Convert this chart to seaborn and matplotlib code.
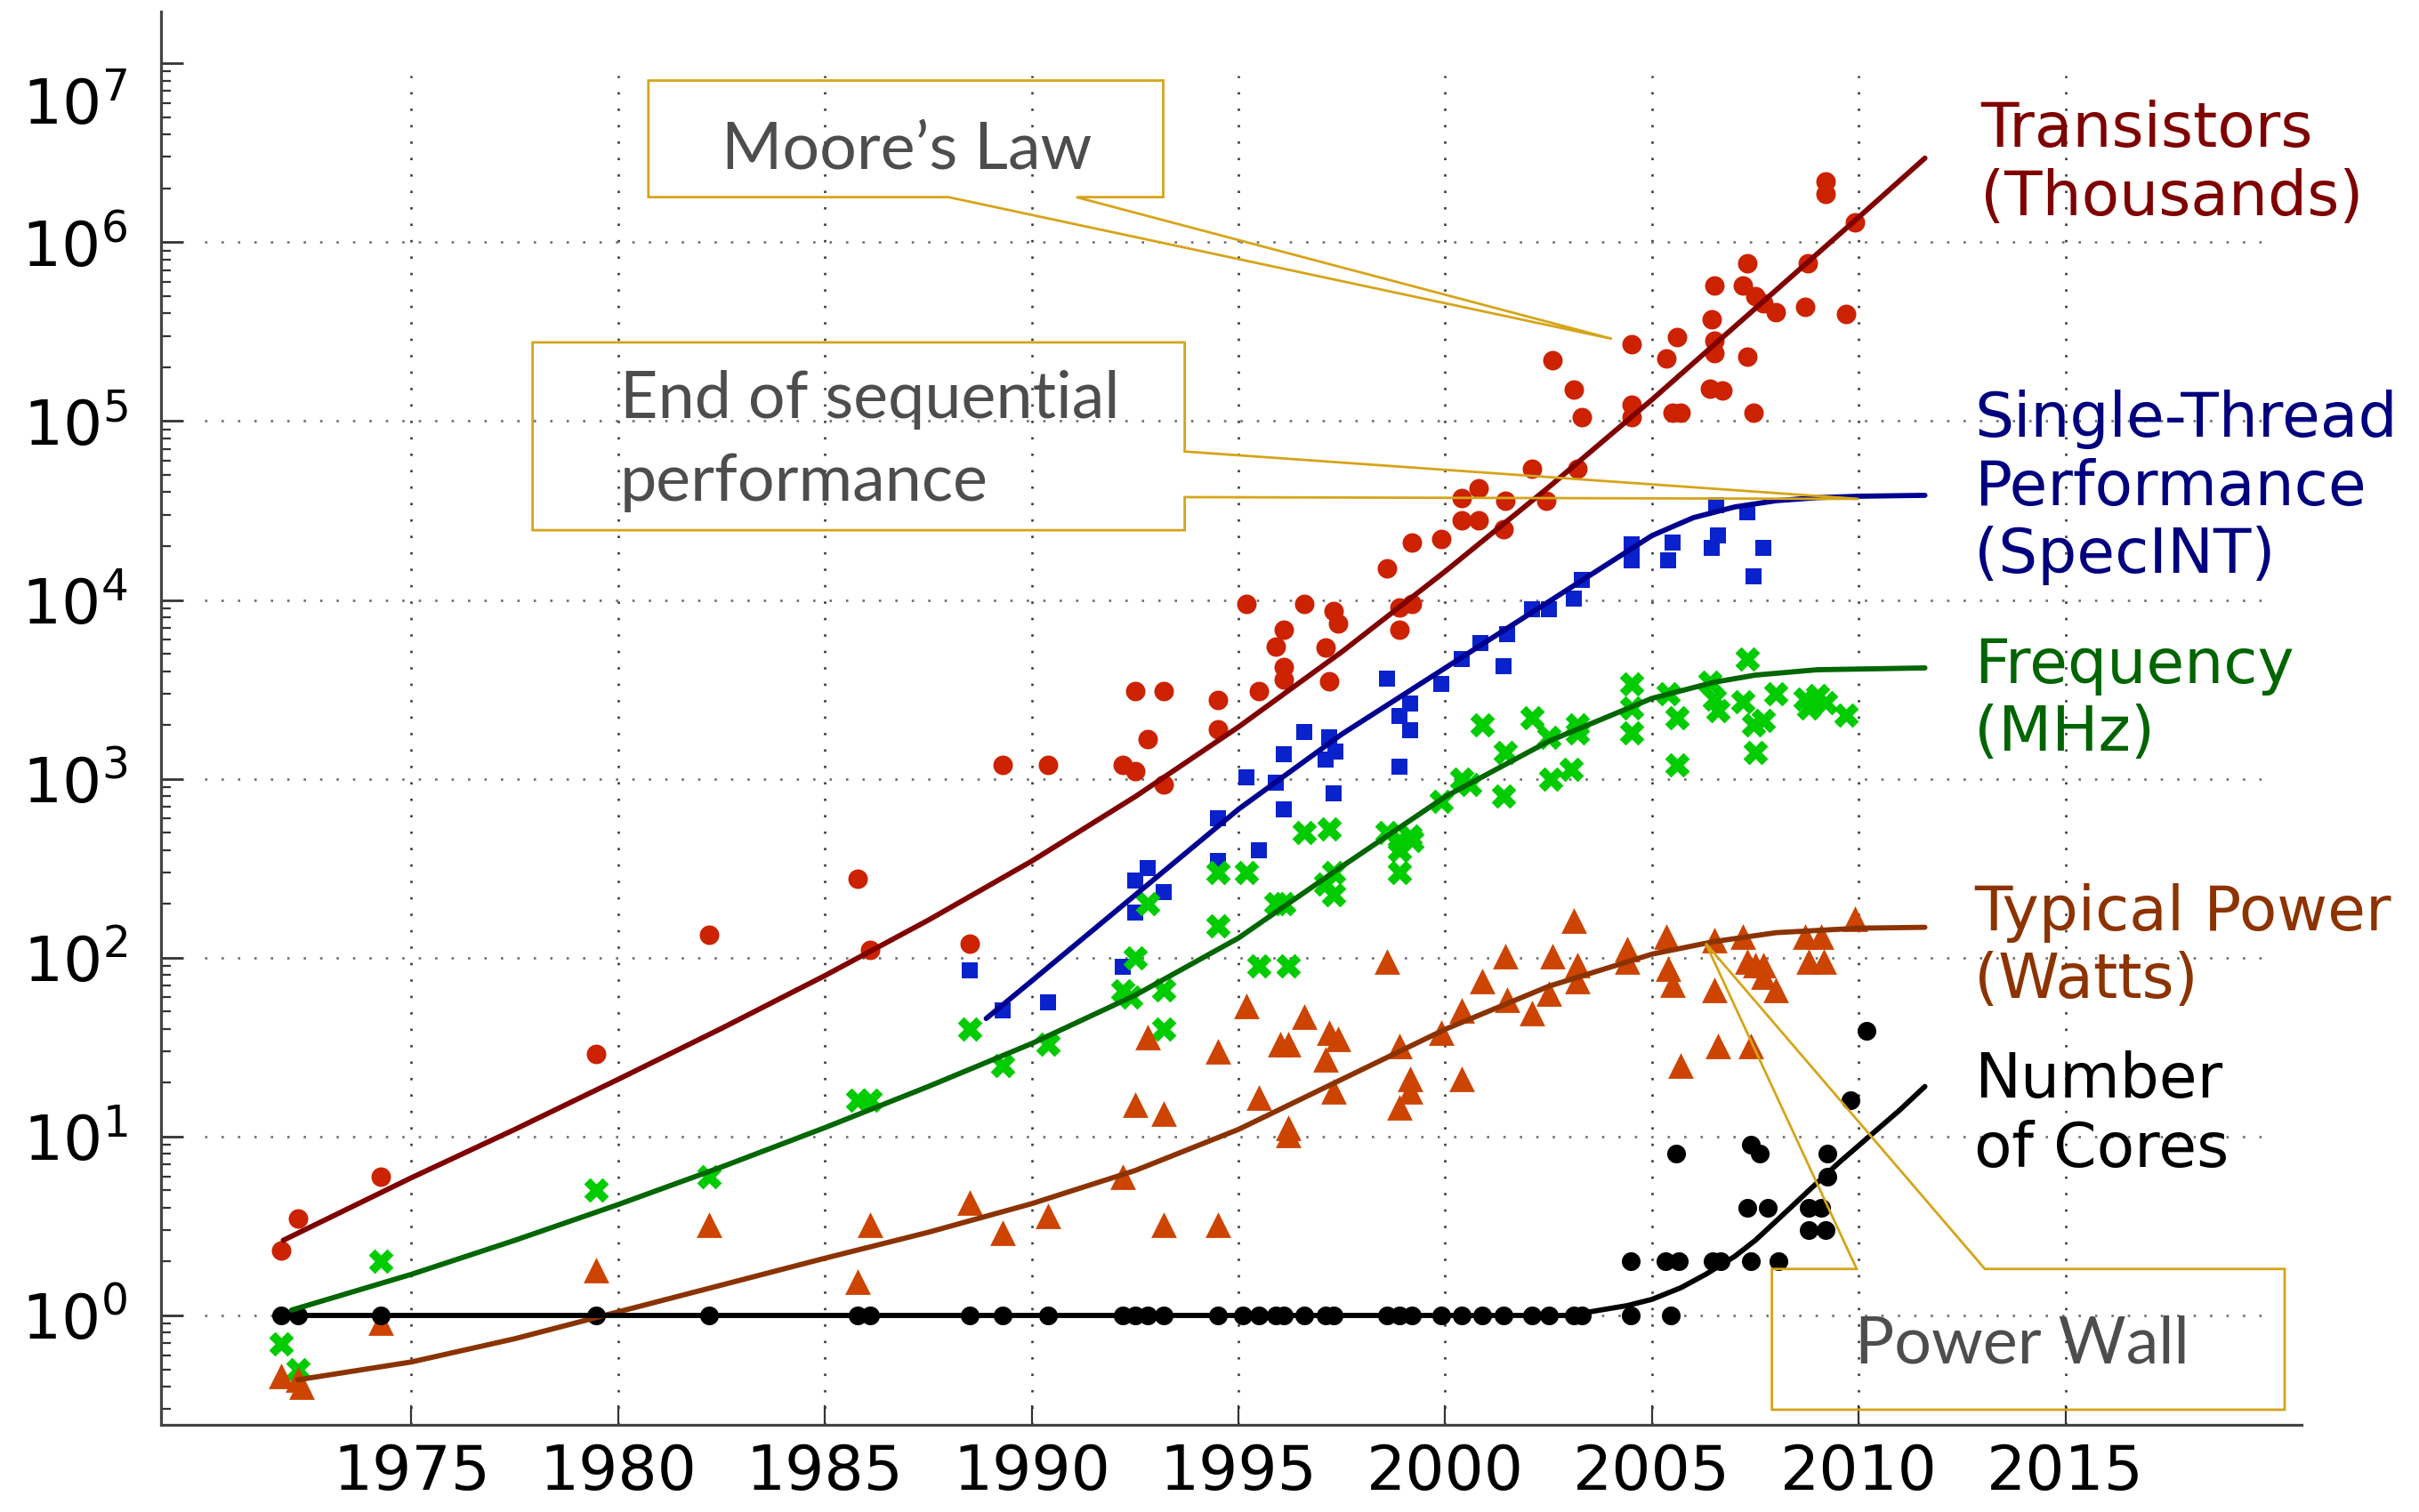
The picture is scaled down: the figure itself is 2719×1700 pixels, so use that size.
import matplotlib
matplotlib.use("Agg")
import numpy as np
import pandas as pd
import matplotlib.pyplot as plt
import seaborn as sns
from matplotlib.patches import Polygon
from matplotlib.ticker import FixedLocator, FixedFormatter, LogLocator, NullFormatter

# ---------------- data ----------------
# Transistors (thousands)
transistor_year = [1971.84, 1972.25, 1974.26, 1979.46, 1982.19, 1985.78, 1986.09, 1988.5, 1989.3, 1990.4,
                   1992.2, 1992.5, 1992.8, 1992.5, 1993.2, 1993.2, 1994.5, 1994.5, 1995.2, 1995.5,
                   1995.9, 1996.1, 1996.1, 1996.1, 1996.6, 1997.3, 1997.4, 1997.1, 1997.2, 1998.6,
                   1998.9, 1998.9, 1999.2, 1999.2, 1999.9, 2000.4, 2000.4, 2000.8, 2000.8, 2001.4,
                   2001.45, 2002.1, 2002.45, 2002.6, 2003.1, 2003.3, 2003.2, 2004.5, 2004.5, 2004.5,
                   2005.35, 2005.6, 2005.5, 2005.7, 2006.5, 2006.45, 2006.5, 2006.5, 2006.4, 2006.7,
                   2007.3, 2007.2, 2007.5, 2007.7, 2008.0, 2007.3, 2007.45, 2008.76, 2008.7, 2009.2,
                   2009.2, 2009.7, 2009.9]
transistor_k = [2.3, 3.5, 6.0, 29, 134, 275, 110, 120, 1200, 1200,
                1200, 1100, 1660, 3100, 3100, 930, 2750, 1900, 9500, 3100,
                5500, 6800, 4200, 3600, 9500, 8700, 7400, 5400, 3500, 15000,
                9100, 6800, 21000, 9500, 22000, 37000, 28000, 42000, 28000, 25000,
                36000, 54000, 36000, 220000, 150000, 105000, 54000, 270000, 123000, 105000,
                224000, 295000, 112000, 112000, 575000, 372000, 282000, 240000, 151000, 148000,
                760000, 575000, 500000, 457000, 407000, 229000, 112000, 760000, 436000, 2190000,
                1860000, 398000, 1290000]

# Single-thread performance (SpecINT)
specint_year = [1988.5, 1989.3, 1990.4, 1992.2, 1992.5, 1992.8, 1993.2, 1992.5, 1994.5, 1994.5,
                1995.2, 1995.5, 1995.9, 1996.1, 1996.1, 1996.6, 1997.2, 1997.3, 1997.35, 1997.1,
                1998.6, 1998.9, 1998.9, 1999.15, 1999.15, 1999.9, 2000.4, 2000.85, 2001.4, 2001.5,
                2002.1, 2002.5, 2003.1, 2003.3, 2004.5, 2004.5, 2005.5, 2005.4, 2006.45, 2006.56,
                2006.6, 2007.3, 2007.45, 2007.7]
specint_val = [85, 51, 56, 89, 270, 316, 234, 178, 603, 347,
               1023, 398, 955, 1380, 676, 1820, 1700, 832, 1413, 1288,
               3630, 2240, 1175, 2630, 1860, 3390, 4680, 5750, 4270, 6460,
               8910, 8910, 10230, 12880, 20420, 16600, 20900, 16600, 19500, 33900,
               22900, 30900, 13500, 19500]

# Frequency (MHz)
freq_year = [1971.84, 1972.25, 1974.26, 1979.46, 1982.19, 1985.78, 1986.09, 1988.5, 1989.3, 1990.4,
             1992.2, 1992.4, 1992.5, 1992.8, 1993.2, 1993.2, 1994.5, 1994.5, 1995.2, 1995.5,
             1996.2, 1995.9, 1996.1, 1996.6, 1997.2, 1997.1, 1997.3, 1997.3, 1998.6, 1998.9,
             1998.9, 1998.9, 1999.15, 1999.2, 1999.9, 2000.4, 2000.6, 2000.9, 2001.45, 2001.4,
             2002.1, 2002.5, 2002.55, 2003.05, 2003.2, 2003.2, 2004.5, 2004.5, 2004.5, 2005.4,
             2005.6, 2005.6, 2006.4, 2006.5, 2006.6, 2007.3, 2007.2, 2007.45, 2007.7, 2007.5,
             2008.0, 2008.7, 2008.8, 2009.0, 2009.2, 2009.7]
freq_mhz = [0.69, 0.5, 2.0, 5.0, 6.0, 16, 16, 40, 25, 33,
            65, 60, 100, 200, 66, 40, 300, 150, 300, 90,
            90, 200, 200, 500, 525, 257, 225, 300, 500, 450,
            300, 400, 480, 450, 750, 1000, 933, 2000, 1400, 800,
            2200, 1700, 1000, 1130, 2000, 1800, 3400, 2500, 1800, 3000,
            2200, 1200, 3460, 2800, 2400, 4700, 2700, 2000, 2130, 1400,
            3000, 2800, 2500, 2930, 2660, 2260]

# Typical power (Watts)
power_year = [1971.84, 1972.25, 1972.35, 1974.26, 1979.46, 1982.19, 1985.78, 1986.09, 1988.5, 1989.3,
              1990.4, 1992.2, 1992.5, 1992.8, 1993.2, 1993.2, 1994.5, 1994.5, 1995.2, 1995.5,
              1996.0, 1996.2, 1996.2, 1996.2, 1996.6, 1997.2, 1997.4, 1997.1, 1997.3, 1998.6,
              1998.9, 1999.15, 1999.15, 1998.9, 1999.9, 2000.4, 2000.4, 2000.9, 2001.45, 2001.5,
              2002.1, 2002.5, 2002.6, 2003.1, 2003.2, 2003.2, 2004.4, 2004.4, 2005.35, 2005.4,
              2005.5, 2005.7, 2006.5, 2006.5, 2006.6, 2007.2, 2007.3, 2007.5, 2007.7, 2007.7,
              2008.0, 2007.4, 2008.7, 2008.8, 2009.1, 2009.15, 2009.9]
power_w = [0.46, 0.44, 0.40, 0.91, 1.8, 3.2, 1.55, 3.2, 4.3, 2.9,
           3.6, 6.0, 15, 36, 13.5, 3.2, 30, 3.2, 54, 16.6,
           33, 33, 11.2, 10.2, 47, 38, 35, 27, 18, 95,
           32, 21, 18, 14.5, 38, 21, 51, 74, 102, 58,
           49, 63, 102, 162, 91, 74, 112, 95, 132, 87,
           71, 25, 126, 66, 32, 132, 95, 91, 91, 78,
           66, 32, 132, 95, 132, 95, 166]

# Number of cores
cores_year = [1971.84, 1972.25, 1974.26, 1979.46, 1982.19, 1985.78, 1986.09, 1988.5, 1989.3, 1990.4,
              1992.2, 1992.5, 1992.8, 1993.2, 1994.5, 1995.1, 1995.5, 1995.9, 1996.1, 1996.6,
              1997.1, 1997.3, 1998.6, 1998.9, 1999.2, 1999.9, 2000.4, 2000.9, 2001.4, 2002.1,
              2002.5, 2003.1, 2003.3, 2004.48, 2005.46,
              2004.48, 2005.33, 2005.64, 2005.58, 2006.47, 2006.66, 2007.4, 2007.6, 2007.3, 2007.8,
              2007.4, 2008.05, 2008.8, 2009.1, 2008.8, 2009.2, 2009.25, 2009.25, 2009.8, 2010.19]
cores_n = [1] * 35 + [2, 2, 2, 8, 2, 2, 9, 8, 4, 4,
                      2, 2, 4, 4, 3, 3, 8, 6, 16, 39]

# Trend curves (year, log10 of value)
transistor_fit_year = [1971.9, 1975, 1977.5, 1980, 1982.5, 1985, 1987.5, 1990, 1992.5, 1995,
                       1997.5, 2000, 2002.5, 2005, 2007.5, 2010, 2011.6]
transistor_fit_log10 = [0.42, 0.77, 1.04, 1.32, 1.605, 1.90, 2.21, 2.54, 2.90, 3.29,
                        3.71, 4.16, 4.63, 5.12, 5.63, 6.14, 6.47]
specint_fit_year = [1988.9, 1990, 1992.5, 1995, 1997.5, 2000, 2002.5, 2005, 2006, 2007,
                    2008, 2009, 2010, 2011.6]
specint_fit_log10 = [1.66, 1.87, 2.35, 2.83, 3.25, 3.62, 3.99, 4.36, 4.46, 4.52,
                     4.555, 4.572, 4.58, 4.585]
freq_fit_year = [1972.1, 1975, 1977.5, 1980, 1982.5, 1985, 1987.5, 1990, 1992.5, 1995,
                 1997.5, 2000, 2002.5, 2005, 2006.5, 2007.5, 2009, 2011.6]
freq_fit_log10 = [0.03, 0.23, 0.42, 0.62, 0.83, 1.05, 1.28, 1.52, 1.79, 2.11,
                  2.51, 2.90, 3.21, 3.45, 3.54, 3.58, 3.61, 3.62]
power_fit_year = [1972.25, 1975, 1977.5, 1980, 1982.5, 1985, 1987.5, 1990, 1992.5, 1995,
                  1997.5, 2000, 2002.5, 2005, 2006.5, 2008, 2010, 2011.6]
power_fit_log10 = [-0.36, -0.26, -0.13, 0.02, 0.17, 0.32, 0.465, 0.625, 0.81, 1.04,
                   1.32, 1.60, 1.84, 2.02, 2.09, 2.14, 2.165, 2.17]
cores_fit_year = [1971.9, 2003.0, 2003.75, 2004.4, 2005, 2005.7, 2006.3, 2007, 2007.5, 2008.2,
                  2008.8, 2009.5, 2010.3, 2011, 2011.6]
cores_fit_log10 = [0.0, 0.0, 0.03, 0.055, 0.09, 0.155, 0.23, 0.33, 0.42, 0.57,
                   0.70, 0.85, 1.01, 1.15, 1.28]

tick_years = [1975, 1980, 1985, 1990, 1995, 2000, 2005, 2010, 2015]
decades = [0, 1, 2, 3, 4, 5, 6, 7]

# ---------------- styling ----------------
sns.set_theme(style="white")
plt.rcParams['font.family'] = ['DejaVu Sans']
plt.rcParams['mathtext.fontset'] = 'dejavusans'

fig = plt.figure(figsize=(27.19, 17.0), dpi=100)
ax = fig.add_axes([0.0665, 0.0576, 0.8848, 0.9348])
ax.set_yscale('log')
ax.set_xlim(1968.94, 2020.70)
ax.set_ylim(10 ** -0.612, 10 ** 7.29)
ax.grid(False)

# dotted grid
ax.vlines(tick_years, 10 ** -0.612, 10 ** 6.93, colors='#3a3a3a', linewidth=1.9,
          linestyles=(0, (1, 6.0)), zorder=1)
ax.hlines([10.0 ** k for k in decades[:-1]], 1970.0, 2019.8, colors='#6e6e6e', linewidth=1.9,
          linestyles=(0, (1, 6.0)), zorder=1)

# scatter points
sns.scatterplot(x=transistor_year, y=transistor_k, ax=ax, marker='o', s=250,
                color='#cc2200', linewidth=0, zorder=3, legend=False)
sns.scatterplot(x=specint_year, y=specint_val, ax=ax, marker='s', s=170,
                color='#0a22cc', linewidth=0, zorder=3, legend=False)
sns.scatterplot(x=freq_year, y=freq_mhz, ax=ax, marker='X', s=400,
                color='#00cc00', linewidth=0, zorder=3, legend=False)
sns.scatterplot(x=power_year, y=power_w, ax=ax, marker='^', s=430,
                color='#cc4400', linewidth=0, zorder=3, legend=False)
sns.scatterplot(x=cores_year, y=cores_n, ax=ax, marker='o', s=230,
                color='black', linewidth=0, zorder=3, legend=False)

# trend curves
for xs, ls, col in [(transistor_fit_year, transistor_fit_log10, '#800000'),
                    (specint_fit_year, specint_fit_log10, '#000090'),
                    (freq_fit_year, freq_fit_log10, '#006600'),
                    (power_fit_year, power_fit_log10, '#8b3300'),
                    (cores_fit_year, cores_fit_log10, 'black')]:
    sns.lineplot(x=xs, y=np.power(10.0, ls), ax=ax, color=col, linewidth=4.2,
                 estimator=None, sort=False, zorder=4, legend=False)
for ln in ax.get_lines():
    ln.set_solid_joinstyle('round')
    ln.set_solid_capstyle('round')

# axes, ticks
for s in ['top', 'right']:
    ax.spines[s].set_visible(False)
for s in ['left', 'bottom']:
    ax.spines[s].set_color('#444444')
    ax.spines[s].set_linewidth(2.3)

ax.xaxis.set_major_locator(FixedLocator(tick_years))
ax.xaxis.set_major_formatter(FixedFormatter([str(y) for y in tick_years]))
ax.yaxis.set_major_locator(FixedLocator([10.0 ** k for k in decades]))
ylabels = [r'$\mathdefault{10^{%d}}$' % k for k in decades[:-1]] + ['']
ax.yaxis.set_major_formatter(FixedFormatter(ylabels))
ax.yaxis.set_minor_locator(LogLocator(base=10, subs=np.arange(2, 10), numticks=40))
ax.yaxis.set_minor_formatter(NullFormatter())
ax.tick_params(axis='x', which='major', bottom=True, direction='in', length=16, width=1.6,
               color='#333333', pad=14, labelsize=50, labelcolor='black')
ax.tick_params(axis='y', which='major', left=True, direction='in', length=18, width=2.0,
               color='#333333', pad=27, labelsize=50, labelcolor='black')
ax.tick_params(axis='y', which='minor', left=True, direction='in', length=8, width=1.6,
               color='#333333')
# top decade label sits lower than its tick in the reference
ax.annotate(r'$\mathdefault{10^{%d}}$' % decades[-1], xy=(0, 10.0 ** decades[-1]),
            xycoords=('axes fraction', 'data'), xytext=(-27, -30), textcoords='offset points',
            ha='right', va='center_baseline', fontsize=50, color='black')

# series labels on the right
lab = dict(fontsize=50, ha='left', va='baseline', family=['DejaVu Sans'])
ax.text(2012.95, 10 ** 6.533, 'Transistors', color='#7f0000', **lab)
ax.text(2012.95, 10 ** 6.152, '(Thousands)', color='#7f0000', **lab)
ax.text(2012.8, 10 ** 4.913, 'Single-Thread', color='#00007f', **lab)
ax.text(2012.8, 10 ** 4.531, 'Performance', color='#00007f', **lab)
ax.text(2012.8, 10 ** 4.151, '(SpecINT)', color='#00007f', **lab)
ax.text(2012.8, 10 ** 3.537, 'Frequency', color='#006400', **lab)
ax.text(2012.8, 10 ** 3.156, '(MHz)', color='#006400', **lab)
ax.text(2012.8, 10 ** 2.155, 'Typical Power', color='#8c3300', **lab)
ax.text(2012.8, 10 ** 1.774, '(Watts)', color='#8c3300', **lab)
ax.text(2012.8, 10 ** 1.22, 'Number', color='black', **lab)
ax.text(2012.8, 10 ** 0.831, 'of Cores', color='black', **lab)

# callout boxes
gold = '#d6a419'
def callout(verts):
    ax.add_patch(Polygon([(x, 10 ** e) for x, e in verts], closed=True, fill=False,
                         edgecolor=gold, linewidth=2.0, zorder=6, clip_on=False))

callout([(1980.73, 6.904), (1993.18, 6.904), (1993.18, 6.252), (1991.08, 6.252),
         (2004.03, 5.46), (1987.99, 6.252), (1980.73, 6.252)])
callout([(1977.93, 5.44), (1993.70, 5.44), (1993.70, 4.83), (2010.0, 4.565),
         (1993.70, 4.575), (1993.70, 4.39), (1977.93, 4.39)])
callout([(2007.9, 0.26), (2009.95, 0.26), (2006.3, 2.08), (2013.05, 0.26),
         (2020.3, 0.26), (2020.3, -0.527), (2007.9, -0.527)])

ann = dict(fontsize=53, color='#4d4d4d', va='baseline', family=['Lato', 'DejaVu Sans'], zorder=7)
ax.text(1986.98, 10 ** 6.414, 'Moore\u2019s Law', ha='center', **ann)
ax.text(1980.05, 10 ** 5.015, 'End of sequential', ha='left', **ann)
ax.text(1980.05, 10 ** 4.553, 'performance', ha='left', **ann)
ax.text(2013.96, 10 ** -0.264, 'Power Wall', ha='center', **ann)

fig.savefig('out.png', dpi=100, facecolor='white')
